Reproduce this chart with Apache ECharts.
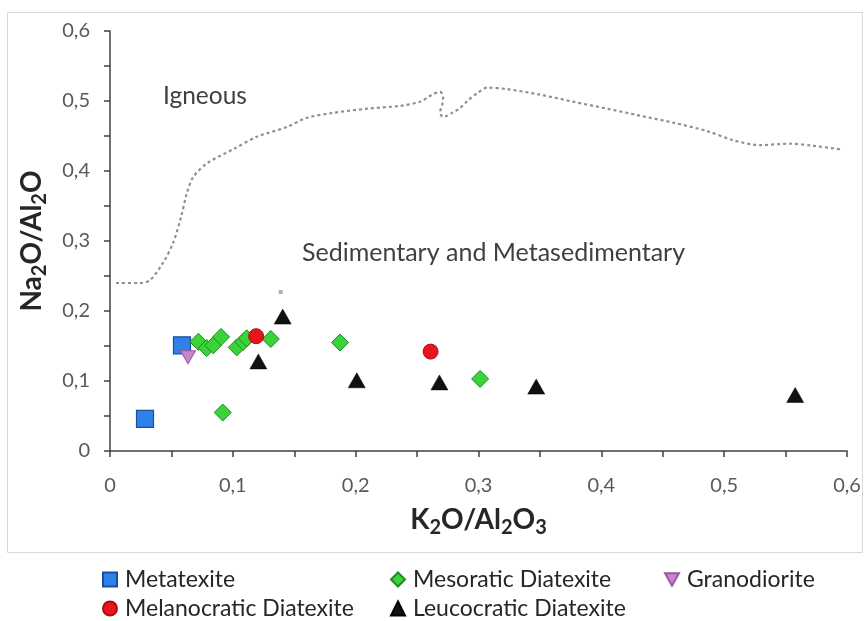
<!DOCTYPE html>
<html>
<head>
<meta charset="utf-8">
<script src="https://cdn.jsdelivr.net/npm/echarts@6/dist/echarts.min.js"></script>
<style>html,body{margin:0;padding:0;background:#fff;}#c{width:864px;height:621px;}</style>
</head>
<body>
<div id="c"></div>
<script>
// ---- data (x = K2O/Al2O3, y = Na2O/Al2O) ----
const metatexite = [[0.0586, 0.151], [0.0285, 0.046]];
const mesoratic = [[0.0719, 0.156], [0.0787, 0.147], [0.0841, 0.151], [0.0904, 0.163], [0.1032, 0.148],
  [0.1085, 0.156], [0.1113, 0.161], [0.1309, 0.160], [0.0918, 0.055], [0.1873, 0.155], [0.3013, 0.103]];
const granodiorite = [[0.0635, 0.134]];
const melanocratic = [[0.119, 0.164], [0.261, 0.142]];
const leucocratic = [[0.1406, 0.192], [0.1208, 0.128], [0.2009, 0.101], [0.2682, 0.098], [0.347, 0.092], [0.5578, 0.080]];
const stray = [[0.139, 0.227]];
const boundary = [[0.0049, 0.240], [0.0244, 0.240], [0.0326, 0.244], [0.0432, 0.269], [0.0513, 0.297], [0.0578, 0.334],
  [0.0627, 0.369], [0.0676, 0.391], [0.0790, 0.411], [0.1002, 0.431], [0.1197, 0.449], [0.1441, 0.463], [0.1604, 0.476],
  [0.1816, 0.483], [0.2093, 0.489], [0.2362, 0.493], [0.2524, 0.499], [0.2622, 0.509], [0.2687, 0.513], [0.2712, 0.506],
  [0.2704, 0.494], [0.2687, 0.484], [0.2712, 0.477], [0.2785, 0.483], [0.2850, 0.490], [0.2915, 0.501], [0.2989, 0.511],
  [0.3070, 0.519], [0.3233, 0.517], [0.3502, 0.509], [0.3770, 0.499], [0.4047, 0.489], [0.4316, 0.479], [0.4585, 0.469],
  [0.4862, 0.457], [0.5073, 0.444], [0.5293, 0.437], [0.5537, 0.439], [0.5725, 0.436], [0.5945, 0.431]];
const axisMin = 0, axisMax = 0.6, tickStep = 0.05;

const FONT = 'Lato';
function fmt(v) {
  const t = v * 10;
  if (Math.abs(t - Math.round(t)) > 1e-6) return '';
  return String(+v.toFixed(1)).replace('.', ',');
}
const nameRich = {
  b: {fontSize: 28, fontWeight: 'bold', color: '#262626', fontFamily: FONT, lineHeight: 36},
  s: {fontSize: 20, fontWeight: 'bold', color: '#262626', fontFamily: FONT, lineHeight: 20, verticalAlign: 'bottom'}
};
function axisCommon(extra) {
  return Object.assign({
    type: 'value', min: axisMin, max: axisMax, interval: tickStep,
    splitLine: {show: false},
    axisLine: {show: true, lineStyle: {color: '#404040', width: 1.5}},
    axisTick: {show: true, inside: false, length: 6, lineStyle: {color: '#404040', width: 1.5}},
    nameLocation: 'middle', nameTextStyle: {rich: nameRich}
  }, extra);
}
const chart = echarts.init(document.getElementById('c'), null, {renderer: 'canvas'});
const legendText = {fontSize: 23, color: '#262626', fontFamily: FONT, padding: [0, 0, 0, 3]};
const invTri = 'path://M0,0 L10,0 L5,9 Z';
function leg(name, left, top) {
  return {orient: 'vertical', left: left, top: top, itemWidth: 14, itemHeight: 14, textStyle: legendText, data: [name]};
}
chart.setOption({
  animation: false,
  backgroundColor: '#fff',
  grid: {left: 110, top: 31, right: 17, bottom: 170, containLabel: false},
  xAxis: axisCommon({
    name: '{b|K}{s|2}{b|O/Al}{s|2}{b|O}{s|3}', nameGap: 51,
    axisLabel: {formatter: fmt, color: '#595959', fontSize: 20, fontFamily: FONT, margin: 25, showMinLabel: true, showMaxLabel: true}
  }),
  yAxis: axisCommon({
    name: '{b|Na}{s|2}{b|O/Al}{s|2}{b|O}', nameGap: 60, nameRotate: 90,
    axisLabel: {formatter: fmt, color: '#595959', fontSize: 20, fontFamily: FONT, margin: 20, showMinLabel: true, showMaxLabel: true}
  }),
  legend: [
    leg('Metatexite', 97, 563),
    leg('Melanocratic Diatexite', 97, 592),
    leg('Mesoratic Diatexite', 385, 563),
    leg('Leucocratic Diatexite', 385, 592),
    leg('Granodiorite', 659, 563)
  ],
  graphic: [
    {type: 'rect', shape: {x: 7.5, y: 12.5, width: 855, height: 540}, style: {fill: 'none', stroke: '#d9d9d9', lineWidth: 1}, z: -1},
    {type: 'text', left: 163, top: 84, style: {text: 'Igneous', fontSize: 24.5, fill: '#404040', fontFamily: FONT}},
    {type: 'text', left: 302, top: 240, style: {text: 'Sedimentary and Metasedimentary', fontSize: 25, fill: '#404040', fontFamily: FONT}}
  ],
  series: [
    {name: 'Boundary', type: 'line', data: boundary, smooth: 0.3, showSymbol: false, symbol: 'none',
      lineStyle: {color: '#8f8f8f', width: 2.2, type: [3, 3]}, z: 1, silent: true},
    {name: 'Stray', type: 'scatter', data: stray, symbol: 'rect', symbolSize: 4, itemStyle: {color: '#b0b0b0', opacity: 1}, z: 2},
    {name: 'Metatexite', type: 'scatter', data: metatexite, symbol: 'rect', symbolSize: 17,
      itemStyle: {color: '#2f80e8', borderColor: '#1a4f9c', borderWidth: 1.2, opacity: 1}, z: 3},
    {name: 'Mesoratic Diatexite', type: 'scatter', data: mesoratic, symbol: 'diamond', symbolSize: 17,
      itemStyle: {color: '#3ad43a', borderColor: '#1f8a1f', borderWidth: 1, opacity: 1}, z: 4},
    {name: 'Granodiorite', type: 'scatter', data: granodiorite, symbol: invTri, symbolSize: [15, 13],
      itemStyle: {color: '#c884d0', borderColor: '#9a5aa0', borderWidth: 1, opacity: 1}, z: 5},
    {name: 'Melanocratic Diatexite', type: 'scatter', data: melanocratic, symbol: 'circle', symbolSize: 15,
      itemStyle: {color: '#e8161c', borderColor: '#a80f12', borderWidth: 1, opacity: 1}, z: 6},
    {name: 'Leucocratic Diatexite', type: 'scatter', data: leucocratic, symbol: 'triangle', symbolSize: [17, 15],
      itemStyle: {color: '#111111', borderColor: '#000', borderWidth: 0.5, opacity: 1}, z: 7}
  ]
});
</script>
</body>
</html>
